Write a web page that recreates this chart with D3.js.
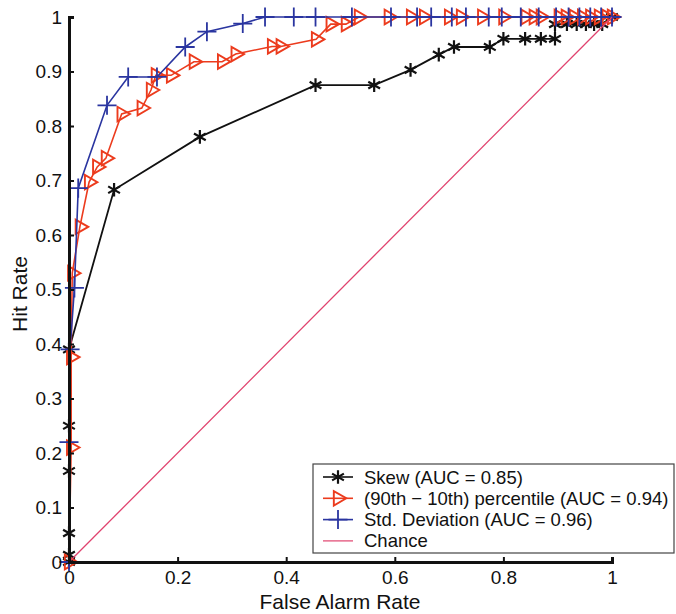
<!DOCTYPE html>
<html>
<head>
<meta charset="utf-8">
<script src="https://cdn.jsdelivr.net/npm/d3@7"></script>
<style>
  body { margin: 0; background: #fff; }
  text { font-family: "Liberation Sans", Arial, sans-serif; fill: #111; }
</style>
</head>
<body>
<div id="chart"></div>
<script>
// ROC points
var skewFa  = [0, 0, 0, 0, 0, 0, 0.083, 0.241, 0.454, 0.562, 0.629, 0.681, 0.709, 0.775, 0.80, 0.84, 0.869, 0.895, 0.895, 0.917, 0.935, 0.952, 0.967, 0.982, 1];
var skewHit = [0, 0.013, 0.053, 0.167, 0.25, 0.39, 0.683, 0.78, 0.875, 0.875, 0.903, 0.931, 0.945, 0.945, 0.96, 0.96, 0.96, 0.96, 0.987, 0.987, 0.987, 0.987, 0.987, 0.987, 1];

var pctFa  = [0, 0.004, 0.004, 0.006, 0.02, 0.037, 0.052, 0.068, 0.097, 0.134, 0.151, 0.16, 0.188, 0.23, 0.282, 0.307, 0.374, 0.39, 0.455, 0.482, 0.51, 0.534, 0.589, 0.63, 0.654, 0.70, 0.722, 0.761, 0.80, 0.841, 0.856, 0.869, 0.902, 0.915, 0.93, 0.945, 0.96, 0.976, 0.99, 1];
var pctHit = [0, 0.21, 0.376, 0.53, 0.615, 0.697, 0.725, 0.741, 0.822, 0.833, 0.866, 0.893, 0.893, 0.918, 0.918, 0.932, 0.946, 0.946, 0.959, 0.987, 0.987, 1, 1, 1, 1, 1, 1, 1, 1, 1, 1, 1, 1, 1, 1, 1, 1, 1, 1, 1];

var stdFa  = [0, 0, 0.002, 0.01, 0.017, 0.07, 0.109, 0.162, 0.214, 0.254, 0.32, 0.361, 0.414, 0.454, 0.521, 0.593, 0.641, 0.667, 0.705, 0.731, 0.773, 0.797, 0.832, 0.865, 0.897, 0.92, 0.94, 0.96, 0.98, 1];
var stdHit = [0, 0.22, 0.39, 0.503, 0.686, 0.838, 0.89, 0.89, 0.945, 0.973, 0.988, 1, 1, 1, 1, 1, 1, 1, 1, 1, 1, 1, 1, 1, 1, 1, 1, 1, 1, 1];

var chanceFa = [0, 1];
var chanceHit = [0, 1];

var ticks = [0, 0.1, 0.2, 0.3, 0.4, 0.5, 0.6, 0.7, 0.8, 0.9, 1];
var xTicks = [0, 0.2, 0.4, 0.6, 0.8, 1];
var legendLabels = ["Skew (AUC = 0.85)", "(90th \u2212 10th) percentile (AUC = 0.94)", "Std. Deviation (AUC = 0.96)", "Chance"];

var width = 676, height = 614;
var x = d3.scaleLinear().domain([0, 1]).range([69, 612]);
var y = d3.scaleLinear().domain([0, 1]).range([562, 17]);

var svg = d3.select("#chart").append("svg")
  .attr("width", width)
  .attr("height", height);

function pts(fa, hit) {
  return fa.map(function(d, i) { return [d, hit[i]]; });
}

var line = d3.line().x(function(d) { return x(d[0]); }).y(function(d) { return y(d[1]); });

var series = [
  { data: pts(skewFa, skewHit), color: "#111", mark: "star", lw: 1.8 },
  { data: pts(pctFa, pctHit), color: "#ec3b1d", mark: "tri", lw: 1.6 },
  { data: pts(stdFa, stdHit), color: "#2a35a0", mark: "plus", lw: 1.6 },
  { data: pts(chanceFa, chanceHit), color: "#e0426e", mark: null, lw: 1.3 }
];

function drawMark(g, kind, color) {
  if (kind == "star") {
    g.append("path").attr("d", d3.symbol().type(d3.symbolAsterisk).size(130)())
      .attr("fill", "none").attr("stroke", color).attr("stroke-width", 2.2);
  } else if (kind == "tri") {
    g.append("path").attr("d", d3.symbol().type(d3.symbolTriangle2).size(150)())
      .attr("transform", "rotate(90)")
      .attr("fill", "none").attr("stroke", color).attr("stroke-width", 1.9);
  } else if (kind == "plus") {
    g.append("path").attr("d", d3.symbol().type(d3.symbolPlus).size(120)())
      .attr("fill", "none").attr("stroke", color).attr("stroke-width", 1.8);
  }
}

series.forEach(function(s) {
  svg.append("path")
    .datum(s.data)
    .attr("d", line)
    .attr("fill", "none")
    .attr("stroke", s.color)
    .attr("stroke-width", s.lw);
  if (s.mark) {
    s.data.forEach(function(d) {
      var g = svg.append("g").attr("transform", "translate(" + x(d[0]) + "," + y(d[1]) + ")");
      drawMark(g, s.mark, s.color);
    });
  }
});

// axes (left and bottom only, ticks pointing in)
var fmt = function(d) { return d == 0 || d == 1 ? d3.format("d")(d) : d3.format(".1f")(d); };

var xAxis = svg.append("g")
  .attr("transform", "translate(0," + y(0) + ")")
  .call(d3.axisBottom(x).tickValues(xTicks).tickSizeInner(-5).tickSizeOuter(-5).tickPadding(9).tickFormat(fmt));
xAxis.select(".domain").attr("stroke", "#111").attr("stroke-width", 3);
xAxis.selectAll(".tick line").attr("stroke", "#111").attr("stroke-width", 2);
xAxis.selectAll("text").style("font-size", "19px").attr("fill", "#111");

var yAxis = svg.append("g")
  .attr("transform", "translate(" + x(0) + ",0)")
  .call(d3.axisLeft(y).tickValues(ticks).tickSizeInner(-5).tickSizeOuter(-5).tickPadding(7).tickFormat(fmt));
yAxis.select(".domain").attr("stroke", "#111").attr("stroke-width", 3);
yAxis.selectAll(".tick line").attr("stroke", "#111").attr("stroke-width", 2);
yAxis.selectAll("text").style("font-size", "19px").attr("fill", "#111");

svg.append("text")
  .attr("x", 340)
  .attr("y", 609)
  .attr("text-anchor", "middle")
  .style("font-size", "21px")
  .text("False Alarm Rate");

svg.append("text")
  .attr("transform", "translate(27,294) rotate(-90)")
  .attr("text-anchor", "middle")
  .style("font-size", "21px")
  .text("Hit Rate");

// legend
var legend = svg.append("g");
legend.append("rect")
  .attr("x", 313).attr("y", 464)
  .attr("width", 361).attr("height", 89)
  .attr("fill", "#fff")
  .attr("stroke", "#444")
  .attr("stroke-width", 1.2);

series.forEach(function(s, i) {
  var ly = 477 + i * 21.3;
  legend.append("line")
    .attr("x1", 323).attr("x2", 353)
    .attr("y1", ly).attr("y2", ly)
    .attr("stroke", s.color)
    .attr("stroke-width", s.mark ? 1.6 : 1.2);
  if (s.mark) {
    var g = legend.append("g").attr("transform", "translate(338," + ly + ")");
    drawMark(g, s.mark, s.color);
  }
  legend.append("text")
    .attr("x", 364)
    .attr("y", ly + 6.5)
    .style("font-size", "18.5px")
    .text(legendLabels[i]);
});
</script>
</body>
</html>
